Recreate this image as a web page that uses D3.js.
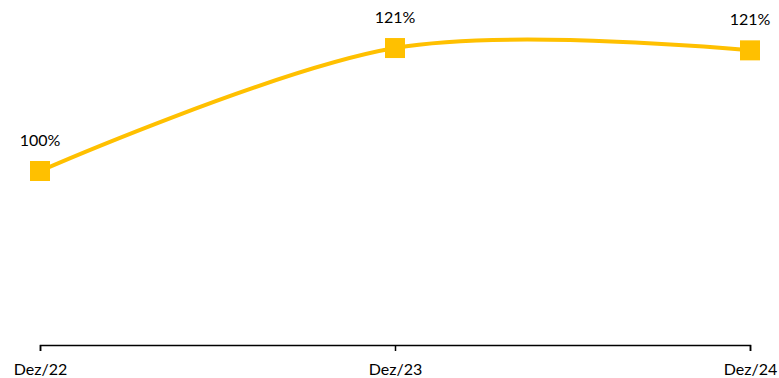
<!DOCTYPE html>
<html>
<head>
<meta charset="utf-8">
<script src="https://cdn.jsdelivr.net/npm/d3@7/dist/d3.min.js"></script>
<style>
  html, body { margin: 0; padding: 0; background: #fff; }
  svg { display: block; font-family: Lato, "Open Sans", sans-serif; }
</style>
</head>
<body>
<svg id="chart" width="779" height="378"></svg>
<script>
// Period labels along the x axis
const categories = ["Dez/22", "Dez/23", "Dez/24"];
// Index values (%), base Dez/22 = 100
const values = [100, 121.2, 120.8];
// Value axis range (%)
const yDomain = [70, 130];

const svg = d3.select("#chart");

const x = d3.scalePoint().domain(categories).range([40, 750]);
const y = d3.scaleLinear().domain(yDomain).range([345, -3]);

const data = categories.map((c, i) => ({ cat: c, v: values[i] }));

// X axis
const axis = svg.append("g")
  .attr("transform", `translate(0,${y(yDomain[0])})`)
  .call(d3.axisBottom(x).tickSize(6).tickSizeOuter(6).tickPadding(13));
axis.select(".domain").attr("stroke", "#000").attr("stroke-width", 1.5);
axis.selectAll(".tick line").attr("stroke", "#000").attr("stroke-width", 1.5);
axis.selectAll(".tick text")
  .attr("fill", "#000")
  .style("font-size", "16px")
  .style("font-family", "Lato, 'Open Sans', sans-serif");

// Smoothed line
const line = d3.line()
  .x(d => x(d.cat))
  .y(d => y(d.v))
  .curve(d3.curveCardinal.tension(0));

svg.append("path")
  .datum(data)
  .attr("fill", "none")
  .attr("stroke", "#FFC000")
  .attr("stroke-width", 4)
  .attr("d", line);

// Square markers
const size = 20;
svg.selectAll("rect.marker")
  .data(data)
  .join("rect")
  .attr("class", "marker")
  .attr("x", d => x(d.cat) - size / 2)
  .attr("y", d => y(d.v) - size / 2)
  .attr("width", size)
  .attr("height", size)
  .attr("fill", "#FFC000");

// Value labels
svg.selectAll("text.label")
  .data(data)
  .join("text")
  .attr("class", "label")
  .attr("x", d => x(d.cat))
  .attr("y", d => y(d.v) - 25)
  .attr("text-anchor", "middle")
  .attr("fill", "#000")
  .style("font-size", "16px")
  .text(d => d3.format(".0f")(d.v) + "%");
</script>
</body>
</html>
